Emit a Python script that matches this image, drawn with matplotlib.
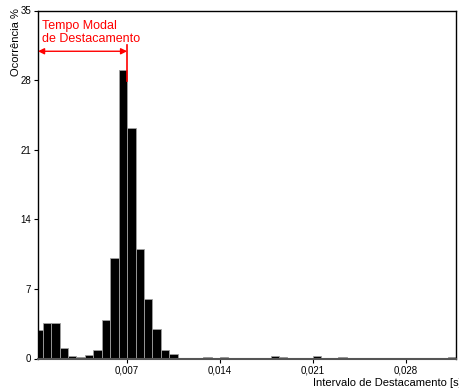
import matplotlib
matplotlib.use("Agg")
import matplotlib.pyplot as plt
import numpy as np

plt.rcParams['font.family'] = ['Liberation Sans', 'DejaVu Sans']

# histogram: bin width = 0.007 / 11, bins start at 0
bin_width = 0.007 / 11
n_bins = 50
counts = {
    0: 2.9, 1: 3.6, 2: 3.6, 3: 1.1, 4: 0.27, 5: 0.2, 6: 0.4, 7: 0.85,
    8: 3.87, 9: 10.1, 10: 29.0, 11: 23.2, 12: 11.0, 13: 6.0, 14: 2.93,
    15: 0.84, 16: 0.43,
    20: 0.15, 22: 0.15, 28: 0.25, 29: 0.15, 33: 0.25, 36: 0.15, 49: 0.15,
}
occurrence = np.zeros(n_bins)
for k, v in counts.items():
    occurrence[k] = v
left_edges = np.arange(n_bins) * bin_width

xticks = [0.007, 0.014, 0.021, 0.028]
xtick_labels = ['0,007', '0,014', '0,021', '0,028']
yticks = [0, 7, 14, 21, 28, 35]

modal_time = 0.007

fig = plt.figure(figsize=(4.6, 3.92), dpi=100)
ax = fig.add_axes([38 / 460, 1 - 358.5 / 392, 418 / 460, 348 / 392])

ax.bar(left_edges, occurrence, width=bin_width, align='edge',
       color='black', edgecolor='#a0a0a0', linewidth=0.6)

ax.set_xlim(0.00028, 0.0318)
ax.set_ylim(0, 35)
ax.set_xticks(xticks)
ax.set_xticklabels(xtick_labels)
ax.set_yticks(yticks)
ax.tick_params(axis='both', direction='out', length=3, width=0.8,
               labelsize=7, pad=2)

for s in ['top', 'right', 'left']:
    ax.spines[s].set_linewidth(1.0)
ax.spines['bottom'].set_color('#555555')
ax.spines['bottom'].set_linewidth(1.5)

# red annotation
ax.annotate('', xy=(0.00028, 30.9), xytext=(modal_time, 30.9),
            arrowprops=dict(arrowstyle='<|-|>', color='red', lw=1.0,
                            mutation_scale=9, shrinkA=0, shrinkB=0))
ax.plot([modal_time, modal_time], [27.9, 31.5], color='red', lw=1.2,
        clip_on=False)
ax.text(0.0006, 34.0, 'Tempo Modal\nde Destacamento', color='red',
        fontsize=9, va='top', ha='left', linespacing=1.1)

fig.text(16 / 460, 1 - 8 / 392, 'Ocorrência %', rotation=90,
         ha='center', va='top', fontsize=8)
fig.text(313 / 460, 1 - 383 / 392, 'Intervalo de Destacamento [s]',
         ha='left', va='center', fontsize=8)

fig.savefig('out.png', dpi=100)
